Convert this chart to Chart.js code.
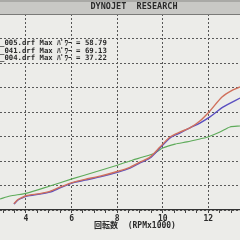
<!DOCTYPE html>
<html>
<head>
<meta charset="utf-8">
<script src="https://cdn.jsdelivr.net/npm/chart.js@4.4.1/dist/chart.umd.min.js"></script>
<style>
  html, body { margin: 0; padding: 0; background: #ecece9; }
  #grafico { display: block; }
</style>
</head>
<body>
<canvas id="grafico" width="240" height="240"></canvas>
<script>
// Datos (RPM x1000 / potencia)
const rpmAzul = [3.47, 3.65, 3.82, 4.04, 4.61, 5.05, 5.49, 6.02, 6.59, 7.25, 8.04, 8.56, 9.0, 9.44, 9.88, 10.32, 10.75, 11.19, 11.63, 12.07, 12.64, 13.39];
const potAzul = [2.4, 4.1, 4.9, 5.7, 6.5, 7.3, 9.0, 11.0, 12.2, 13.5, 15.5, 17.1, 19.2, 21.2, 25.3, 29.4, 31.4, 33.5, 35.5, 38.0, 42.0, 45.7];

const rpmRojo = [3.47, 3.65, 3.82, 4.04, 4.61, 5.05, 5.49, 6.02, 6.59, 7.25, 8.04, 8.56, 9.0, 9.44, 9.88, 10.32, 10.75, 11.19, 11.63, 12.07, 12.6, 13.08, 13.39];
const potRojo = [2.6, 4.3, 5.1, 5.9, 6.7, 7.6, 9.3, 11.2, 12.5, 13.8, 15.8, 17.4, 19.5, 21.6, 25.7, 29.8, 31.8, 33.5, 36.3, 40.4, 46.1, 49.0, 50.2];

const rpmVerde = [2.86, 3.3, 4.04, 5.05, 6.02, 7.03, 8.04, 8.69, 9.13, 9.66, 10.0, 10.54, 11.06, 11.63, 11.98, 12.51, 12.95, 13.39];
const potVerde = [4.5, 5.7, 6.9, 9.8, 12.7, 15.5, 18.4, 20.4, 21.6, 23.3, 25.3, 26.9, 27.8, 29.0, 29.8, 31.8, 33.9, 34.3];

const etiquetasRpm = [4, 6, 8, 10, 12];
const lineasLeyenda = [
    "_005.drf Max ﾊﾟﾜｰ = 58.79",
    "_041.drf Max ﾊﾟﾜｰ = 69.13",
    "_004.drf Max ﾊﾟﾜｰ = 37.22"
];
const tituloCabecera = "DYNOJET  RESEARCH";
const tituloEjeX = "回転数  (RPMx1000)";

function puntos(xs, ys) {
    return xs.map((x, i) => ({ x: x, y: ys[i] }));
}

function esPar(v) {
    return Math.abs(v - Math.round(v / 2) * 2) < 1e-6;
}

const fuenteMono = "'DejaVu Sans Mono', 'Noto Sans CJK JP', monospace";

// Cabecera gris, leyenda de texto y título del eje
const decoracion = {
    id: "decoracion",
    beforeDraw(chart) {
        const ctx = chart.ctx;
        ctx.save();
        ctx.fillStyle = "#c8c8c5";
        ctx.fillRect(0, 0, 240, 14);
        ctx.fillStyle = "#a9a9a6";
        ctx.fillRect(0, 0, 240, 2);
        ctx.restore();
    },
    afterDraw(chart) {
        const ctx = chart.ctx;
        ctx.save();
        ctx.strokeStyle = "#7a7a78";
        ctx.lineWidth = 1;
        ctx.beginPath();
        ctx.moveTo(0, 14.5);
        ctx.lineTo(240, 14.5);
        ctx.stroke();

        ctx.fillStyle = "#2a2a2a";
        ctx.textBaseline = "middle";
        ctx.textAlign = "center";
        ctx.font = "bold 8.5px " + fuenteMono;
        ctx.fillText(tituloCabecera, 134, 7);

        ctx.font = "bold 8px " + fuenteMono;
        ctx.fillText(tituloEjeX, 135, 226);

        ctx.textAlign = "left";
        ctx.font = "bold 7.3px " + fuenteMono;
        lineasLeyenda.forEach((t, i) => {
            ctx.fillText(t, 0, 43.5 + i * 7.3);
        });
        ctx.restore();
    }
};

new Chart(document.getElementById("grafico").getContext("2d"), {
    type: "line",
    data: {
        datasets: [
            {
                label: "rojo",
                data: puntos(rpmRojo, potRojo),
                borderColor: "#d0705c",
                borderWidth: 1.4,
                pointRadius: 0,
                tension: 0.25
            },
            {
                label: "azul",
                data: puntos(rpmAzul, potAzul),
                borderColor: "#5a4fc0",
                borderWidth: 1.4,
                pointRadius: 0,
                tension: 0.25
            },
            {
                label: "verde",
                data: puntos(rpmVerde, potVerde),
                borderColor: "#5eab5a",
                borderWidth: 1.1,
                pointRadius: 0,
                tension: 0.25
            }
        ]
    },
    options: {
        responsive: false,
        animation: false,
        devicePixelRatio: 1,
        layout: { padding: { top: 14, left: 0, right: 0, bottom: 0 } },
        plugins: {
            legend: { display: false },
            tooltip: { enabled: false },
            title: { display: false }
        },
        scales: {
            x: {
                type: "linear",
                min: 2.86,
                max: 13.39,
                afterFit(scale) { scale.height = 30; },
                border: { display: true, color: "#333", width: 1.2, dash: [2, 2] },
                grid: {
                    color: ctx => (ctx.tick && esPar(ctx.tick.value)) ? "#555" : "rgba(0,0,0,0)",
                    tickColor: "#444",
                    tickLength: 3,
                    lineWidth: 1
                },
                ticks: {
                    stepSize: 0.5,
                    includeBounds: false,
                    autoSkip: false,
                    maxRotation: 0,
                    padding: 1,
                    color: "#2a2a2a",
                    font: { family: fuenteMono, size: 8, weight: "bold" },
                    callback: v => (esPar(v) && etiquetasRpm.includes(Math.round(v))) ? String(Math.round(v)) : ""
                }
            },
            y: {
                min: 0,
                max: 80,
                afterFit(scale) { scale.width = 0; },
                border: { display: false, dash: [2, 2] },
                grid: { color: "#5a5a5a", lineWidth: 1, drawTicks: false },
                ticks: { display: false, stepSize: 10 }
            }
        }
    },
    plugins: [decoracion]
});
</script>
</body>
</html>
